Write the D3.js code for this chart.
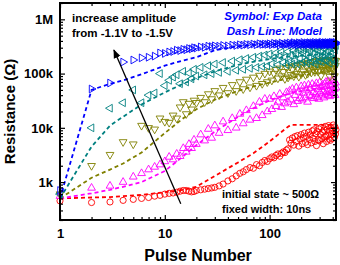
<!DOCTYPE html>
<html>
<head>
<meta charset="utf-8">
<script src="https://cdn.jsdelivr.net/npm/d3@7"></script>
<style>
  body { margin: 0; background: #fff; }
  text { font-family: "Liberation Sans", Arial, sans-serif; font-weight: bold; }
</style>
</head>
<body>
<script>
// pulse numbers of the measured points
let pulses = [1,2,3,4,5,6,7,8,9,10,11,12,13,14,15,16,17,18,19,20,
  22,24,26,28,30,33,36,40,44,48,52,56,60,65,70,75,80,85,90,95,
  100,105,110,115,120,125,130,135,140,145,
  150,155,160,165,170,175,180,185,190,195,
  200,205,210,215,220,225,230,235,240,245,
  250,255,260,265,270,275,280,285,290,295,
  300,305,310,315,320,325,330,335,340,345,
  350,355,360,365,370,375,380,385,390,395,
  400,405,410,415,420,425,430];
// pulse numbers where the model is drawn
let modelPulses = [1,2,3,4,6,10,15,20,30,50,70,100,150,160,300,430];

// resistance in kOhm, one array per amplitude (-1.1V ... -1.5V)
let expRed = [0.45,0.42,0.43,0.46,0.48,0.5,0.52,0.55,0.57,0.6,0.62,0.63,0.65,0.68,0.7,0.7,0.68,0.66,0.67,0.7,
  0.72,0.74,0.76,0.78,0.8,0.85,0.92,1.05,1.15,1.3,1.45,1.55,1.7,1.85,1.8,2.1,2.0,2.3,2.5,2.4,
  2.7,2.9,2.8,3.1,3.3,3.0,3.4,3.6,3.5,3.9,
  4.1,6.0,5.2,6.5,4.8,6.9,5.6,7.2,4.6,6.2,
  7.5,5.1,6.6,8.0,5.4,7.0,4.9,8.3,6.1,7.4,
  5.3,8.8,6.4,9.2,5.6,7.8,4.7,8.5,6.0,9.6,
  5.8,7.6,10.2,6.3,8.4,5.1,9.1,6.8,10.6,7.0,
  5.6,9.4,7.3,11.0,6.2,8.7,5.9,10.1,7.5,9.0,
  6.4,11.3,8.1,6.7,10.4,7.7,9.2];
let expMagenta = [0.55,0.78,0.85,1.0,1.25,1.45,1.7,1.9,2.1,2.4,2.9,2.6,3.3,3.0,4.2,3.6,5.0,4.2,6.0,5.0,
  7.5,5.8,9.5,6.5,11,8,13,9,15,10,18,12,21,14,25,15,30,17,34,20,
  34,22,38,25,30,42,24,36,28,45,
  30,48,33,52,27,40,55,31,46,35,
  58,33,44,60,36,50,30,62,40,54,
  38,64,45,35,58,42,66,37,52,34,
  68,44,56,39,62,47,36,65,42,70,
  45,58,40,72,48,38,62,44,74,50,
  62,44,75,52,40,68,55];
let expOlive = [0.6,2.0,3.2,5.5,5.0,11,10,9.4,15,13,12.5,17,15,24,30,18,28,22,32,29,
  36,30,42,34,48,40,55,44,62,48,70,52,78,56,85,60,92,65,100,70,
  110,75,100,118,82,125,90,108,80,128,
  85,135,95,120,90,140,100,130,88,145,
  98,150,110,155,95,135,100,160,115,145,
  105,165,120,140,108,170,125,150,110,175,
  118,155,92,172,130,115,178,140,120,165,
  118,175,135,122,180,88,115,170,128,178,
  125,160,122,90,175,140,172];
let expTeal = [0.6,10,23,29,50,29,40,44,100,60,75,86,95,65,110,70,102,80,120,90,
  130,95,140,100,150,105,160,110,170,115,180,120,190,125,200,130,210,135,220,138,
  230,150,195,240,145,210,250,160,200,145,
  255,165,220,150,265,175,235,150,270,190,
  280,160,240,290,170,220,155,300,200,260,
  165,310,230,175,285,150,320,210,270,170,
  330,195,250,165,340,220,290,180,350,240,
  175,345,260,200,340,155,300,230,355,185,
  345,240,180,350,270,160,330];
let expBlue = [0.7,52,67,163,178,195,200,210,240,235,250,255,270,265,280,275,290,285,300,295,
  310,305,320,315,325,320,330,325,335,330,340,335,345,340,350,340,355,345,350,345,
  355,340,362,348,358,335,365,350,342,360,
  348,368,338,356,372,345,360,335,370,350,
  362,340,375,352,345,368,338,360,372,350,
  345,370,355,338,376,350,362,342,372,356,
  340,368,352,378,345,362,336,372,355,366,
  342,375,350,360,338,370,356,346,378,352,
  364,340,372,355,348,376,360];

let modelRed = [0.5,0.52,0.53,0.55,0.58,0.65,0.72,0.82,1.3,2.3,3.4,5.6,10.5,11.3,11.3,11.3];
let modelMagenta = [0.5,0.62,0.72,0.82,1.0,1.6,3.0,4.8,8.5,16,23,32,42,44,54,55];
let modelOlive = [0.5,1.2,1.7,2.2,3.5,8,15,22,33,48,58,68,82,84,105,115];
let modelTeal = [0.5,4.5,11,16,27,45,65,82,110,145,165,185,205,207,225,230];
let modelBlue = [0.5,50,65,75,97,140,175,200,270,320,340,350,355,355,355,355];

let seriesNames = ["red", "magenta", "olive", "teal", "blue"];
let colors = { red: "#ff0000", magenta: "#ff00ff", olive: "#808000", teal: "#008080", blue: "#0000ff" };
let expData = { red: expRed, magenta: expMagenta, olive: expOlive, teal: expTeal, blue: expBlue };
let modelData = { red: modelRed, magenta: modelMagenta, olive: modelOlive, teal: modelTeal, blue: modelBlue };
// marker shape and rotation, like Origin defaults
let markers = {
  red: { type: d3.symbolCircle, size: 30, rot: 0 },
  magenta: { type: d3.symbolTriangle, size: 26, rot: 0 },
  olive: { type: d3.symbolTriangle, size: 26, rot: 180 },
  teal: { type: d3.symbolTriangle, size: 26, rot: -90 },
  blue: { type: d3.symbolTriangle, size: 26, rot: 90 }
};
let yTickLabels = { 1: "1k", 10: "10k", 100: "100k", 1000: "1M" };

let width = 340, height = 265;
let plot = { left: 60, right: 336, top: 3, bottom: 220 };

let svg = d3.select("body").append("svg")
  .attr("width", width)
  .attr("height", height);

let xScale = d3.scaleLog().domain([1, 430]).range([plot.left, plot.right]);
let yScale = d3.scaleLog().domain([0.2, 2000]).range([plot.bottom, plot.top]);

let xMinor = xScale.ticks().filter(d => [1, 10, 100].indexOf(d) < 0);
let yMinor = yScale.ticks().filter(d => yTickLabels[d] === undefined);

let plotArea = svg.append("g");

// data: symbols first, model dash line on top, series by series
seriesNames.forEach(name => {
  let m = markers[name];
  let sym = d3.symbol().type(m.type).size(m.size);
  plotArea.append("g")
    .selectAll("path")
    .data(pulses.map((p, i) => [p, expData[name][i]]))
    .join("path")
    .attr("d", sym)
    .attr("transform", d => `translate(${xScale(d[0])},${yScale(d[1])}) rotate(${m.rot})`)
    .attr("fill", "none")
    .attr("stroke", colors[name])
    .attr("stroke-width", 0.9);

  let line = d3.line()
    .x(d => xScale(d[0]))
    .y(d => yScale(d[1]));
  plotArea.append("path")
    .datum(modelPulses.map((p, i) => [p, modelData[name][i]]))
    .attr("d", line)
    .attr("fill", "none")
    .attr("stroke", colors[name])
    .attr("stroke-width", 1.8)
    .attr("stroke-dasharray", "4,3");
});

// axes, ticks pointing inward on all four sides
function styleAxis(g) {
  g.select(".domain").remove();
  g.selectAll("line").attr("stroke", "#000").attr("stroke-width", 1.2);
  g.selectAll("text").attr("fill", "#000").style("font-size", "13px").style("font-weight", "bold");
}
svg.append("g").attr("transform", `translate(0,${plot.bottom})`)
  .call(d3.axisBottom(xScale).tickValues([1, 10, 100]).tickSize(-5).tickPadding(9).tickFormat(d3.format("d")))
  .call(styleAxis);
svg.append("g").attr("transform", `translate(0,${plot.bottom})`)
  .call(d3.axisBottom(xScale).tickValues(xMinor).tickSize(-3).tickFormat(""))
  .call(styleAxis);
svg.append("g").attr("transform", `translate(0,${plot.top})`)
  .call(d3.axisTop(xScale).tickValues([1, 10, 100]).tickSize(-5).tickFormat(""))
  .call(styleAxis);
svg.append("g").attr("transform", `translate(0,${plot.top})`)
  .call(d3.axisTop(xScale).tickValues(xMinor).tickSize(-3).tickFormat(""))
  .call(styleAxis);
svg.append("g").attr("transform", `translate(${plot.left},0)`)
  .call(d3.axisLeft(yScale).tickValues([1, 10, 100, 1000]).tickSize(-5).tickPadding(7).tickFormat(d => yTickLabels[d]))
  .call(styleAxis);
svg.append("g").attr("transform", `translate(${plot.left},0)`)
  .call(d3.axisLeft(yScale).tickValues(yMinor).tickSize(-3).tickFormat(""))
  .call(styleAxis);
svg.append("g").attr("transform", `translate(${plot.right},0)`)
  .call(d3.axisRight(yScale).tickValues([1, 10, 100, 1000]).tickSize(-5).tickFormat(""))
  .call(styleAxis);
svg.append("g").attr("transform", `translate(${plot.right},0)`)
  .call(d3.axisRight(yScale).tickValues(yMinor).tickSize(-3).tickFormat(""))
  .call(styleAxis);

// frame
svg.append("rect")
  .attr("x", plot.left).attr("y", plot.top)
  .attr("width", plot.right - plot.left).attr("height", plot.bottom - plot.top)
  .attr("fill", "none").attr("stroke", "#000").attr("stroke-width", 2);

// axis titles
svg.append("text").text("Pulse Number")
  .attr("x", (plot.left + plot.right) / 2).attr("y", 261)
  .attr("text-anchor", "middle")
  .style("font-size", "16px");
svg.append("text").text("Resistance (Ω)")
  .attr("transform", `translate(15, ${(plot.top + plot.bottom) / 2}) rotate(-90)`)
  .attr("text-anchor", "middle")
  .style("font-size", "15px");

// annotations
let arrowFrom = [14.2, 0.4], arrowTo = [3.27, 272];
svg.append("defs").append("marker")
  .attr("id", "head").attr("viewBox", "0 0 10 10")
  .attr("refX", 9).attr("refY", 5)
  .attr("markerWidth", 9).attr("markerHeight", 9)
  .attr("markerUnits", "userSpaceOnUse")
  .attr("orient", "auto")
  .append("path").attr("d", "M0,1 L10,5 L0,9 Z").attr("fill", "#000");
svg.append("line")
  .attr("x1", xScale(arrowFrom[0])).attr("y1", yScale(arrowFrom[1]))
  .attr("x2", xScale(arrowTo[0])).attr("y2", yScale(arrowTo[1]))
  .attr("stroke", "#000").attr("stroke-width", 1.3)
  .attr("marker-end", "url(#head)");

svg.append("text").text("increase amplitude")
  .attr("x", 72).attr("y", 22).style("font-size", "11.5px");
svg.append("text").text("from -1.1V to -1.5V")
  .attr("x", 72).attr("y", 37).style("font-size", "11.5px");
svg.append("text").text("Symbol: Exp Data")
  .attr("x", 322).attr("y", 20).attr("text-anchor", "end")
  .attr("fill", "#0000ff").style("font-style", "italic").style("font-size", "11.5px");
svg.append("text").text("Dash Line: Model")
  .attr("x", 322).attr("y", 35).attr("text-anchor", "end")
  .attr("fill", "#0000ff").style("font-style", "italic").style("font-size", "11.5px");
svg.append("text").text("initial state ~ 500Ω")
  .attr("x", 222).attr("y", 198).style("font-size", "11px");
svg.append("text").text("fixed width: 10ns")
  .attr("x", 222).attr("y", 213).style("font-size", "11px");
</script>
</body>
</html>
